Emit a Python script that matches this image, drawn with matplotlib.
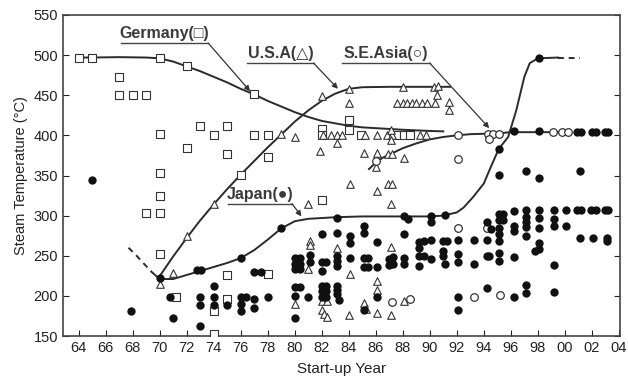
import matplotlib.pyplot as plt
import numpy as np

plt.rcParams['font.family'] = ['Liberation Sans', 'DejaVu Sans']

# Germany (open squares)
germany_year = [64, 65, 70, 72, 67, 67, 68, 69, 77, 70, 73, 74, 75, 72, 75, 77, 78, 78,
                76, 70, 70, 70, 69, 70, 75, 78, 71.2, 75, 74, 74,
                84, 84, 82, 82, 84.9, 87.5, 88.1, 88.5, 82]
germany_temp = [497, 497, 497, 486, 473, 450, 450, 450, 451, 402, 412, 400, 412, 384, 377, 400, 400, 373,
                351, 353, 325, 303, 303, 252, 226, 227, 198, 196, 181, 152,
                419, 407, 408, 400, 400, 400, 400, 400, 320]

# U.S.A (open triangles)
usa_year = [70, 71, 72, 74, 79, 80, 82, 84, 84, 88, 90.3, 90.6, 90.5,
            87.6, 88.0, 88.3, 88.7, 89.0, 89.4, 89.8, 90.4, 91.4, 91.4,
            82.1, 82.7, 83.1, 83.5, 83.1, 81.9, 85.2, 86.1, 86.8, 87.2, 87.1, 87.1, 89.3, 89.7,
            85.1, 86.1, 86.9, 87.2, 88.1, 86, 84.1, 86.9, 87.2, 86.1, 81, 87.1,
            81.1, 81.1, 83.1, 87.1, 81, 84.1, 86.1, 86.1,
            80, 82, 82.4, 82, 82.2, 82.4, 84, 85.1, 85.3, 86.1, 87.1, 88.1]
usa_temp = [215, 228, 274, 315, 402, 398, 449, 458, 440, 460, 460, 461, 450,
            440, 440, 440, 440, 440, 440, 440, 440, 442, 431,
            400, 400, 400, 400, 390, 380, 400, 400, 400, 400, 407, 394, 400, 400,
            378, 378, 377, 377, 372, 360, 340, 340, 340, 331, 314, 315,
            269, 263, 260, 261, 233, 227, 219, 207,
            190, 194, 194, 183, 177, 174, 176, 191, 184, 179, 176, 194]

# S.E.Asia (open circles)
asia_year = [86, 92.1, 94.3, 94.7, 95.1, 94.4, 92.1, 99.1, 99.8, 100.2,
             92.1, 94.2, 93.3, 95.2, 87.2, 88.5]
asia_temp = [368, 400, 402, 402, 402, 396, 371, 404, 404, 404,
             284, 284, 199, 201, 192, 196]

# Japan (filled circles)
japan_year = [65, 67.9, 70, 70.8, 71, 72.8, 73.1, 73, 73, 73, 74, 74, 74, 75,
              76, 76, 76.4, 76, 76, 77, 77.5, 77, 77, 78, 79,
              80, 80.4, 80, 80.4, 80, 80.4, 80, 80.4, 80, 80,
              81.1, 81.1, 81,
              82, 82, 82.3, 82, 82, 82.3, 82, 82.3, 82, 82.3,
              83.1, 83.1, 83.1, 83.1, 83.1, 83.1, 83.1, 83.1, 83.3,
              84.1, 84.1, 84.1,
              85.1, 85.1, 85.1, 85.4, 85.1, 85.4, 85.1,
              86.1, 86.1, 86.1,
              87, 87.3, 87, 87.3,
              88.1, 88.4, 88.1, 88.1, 88.1,
              89.2, 89.6, 89.2, 89.2, 89.6, 89.2,
              90.1, 90.1, 90.1, 90.1,
              91.1, 91, 91.3, 91, 91, 91.1,
              92.1, 92.1, 92.1, 92.1, 92.1,
              93.3, 93.3,
              94.2, 94.5, 94.2, 94.2, 94.4, 94.2,
              95.1, 95.1, 95.1, 95.4, 95.1, 95.4, 95.1, 95.1, 95.1, 95.1, 95.1,
              96.2, 96.2, 96.2, 96.2, 96.2, 96.2,
              97.1, 97.1, 97.1, 97.1, 97.1, 97.1, 97.1, 97.1,
              98.1, 98.1, 98.1, 98.1, 98.1, 98.1, 98.1, 98.1, 97.8,
              99.2, 99.2, 99.2, 99.2, 99.2,
              100.1, 100.1,
              100.9, 101.2, 101.1, 100.9, 101.2, 101.1,
              102.0, 102.3, 101.9, 102.3, 102.1,
              103.0, 103.2, 103.0, 103.2, 103.1, 103.1]
japan_temp = [345, 181, 222, 198, 172, 232, 232, 199, 189, 162, 212, 199, 189, 189,
              247, 199, 199, 190, 181, 230, 230, 196, 185, 199, 285,
              247, 247, 240, 240, 233, 233, 211, 211, 200, 173,
              251, 242, 199,
              277, 242, 242, 231, 212, 212, 206, 206, 199, 199,
              297, 278, 250, 244, 237, 212, 207, 202, 195,
              274, 266, 247,
              287, 278, 247, 247, 236, 236, 183,
              267, 236, 198,
              246, 248, 238, 240,
              299, 296, 277, 247, 240,
              267, 268, 260, 250, 250, 237,
              300, 292, 270, 246,
              301, 269, 269, 256, 250, 240,
              270, 252, 242, 199, 183,
              270, 240,
              292, 283, 270, 250, 250, 210,
              383, 351, 302, 302, 294, 294, 284, 277, 268, 253, 243,
              405, 306, 287, 281, 248, 199,
              355, 307, 298, 292, 286, 274, 214, 204,
              496, 405, 347, 307, 297, 285, 266, 258, 256,
              307, 296, 287, 238, 205,
              307, 287,
              404, 404, 355, 307, 307, 272,
              404, 404, 307, 307, 272,
              404, 404, 307, 307, 272, 268]

# hand-drawn trend lines
germany_line_x = [64, 65, 67, 69, 70, 71, 72, 73, 74, 75, 76, 77, 78, 79, 80, 81, 82, 83, 84, 85, 86, 88, 90, 91]
germany_line_y = [497, 497, 497.5, 497, 496, 492, 486, 480, 473, 466, 458, 451, 443, 436, 429, 423, 418, 415, 412, 410, 409, 407, 405.5, 405]

usa_line_x = [69.9, 71, 72, 73, 74, 75, 76, 77, 78, 79, 80, 81, 82, 83, 84, 85, 87, 89, 91.5]
usa_line_y = [222, 249, 272, 294, 314, 333, 351, 368, 385, 401, 417, 431, 443, 452, 458, 460, 460.5, 460.5, 460.5]

asia_line_x = [85.5, 86, 86.5, 87, 88, 89, 90, 91, 92, 93, 94, 95, 96, 98, 100]
asia_line_y = [358, 366, 372, 376, 384, 390, 395, 398, 400, 401.5, 402, 402.5, 404, 404, 404]

japan_dash_x = [67.7, 68.3, 68.9, 69.4]
japan_dash_y = [260, 250, 239, 230]
japan_line_x = [69.4, 69.8, 70.3, 71, 72, 73, 74, 75, 76, 77, 78, 79, 80, 81, 82, 83, 85, 88, 90, 91,
                92, 92.5, 93.2, 94, 94.4, 95.1, 95.8, 96.4, 97, 97.4, 98, 99.5]
japan_line_y = [230, 224, 221, 221, 226, 231, 236, 241, 247, 257, 270, 284, 293, 296, 297, 298, 299, 299, 299, 300,
                304, 310, 323, 340, 356, 383, 398, 431, 473, 490, 496, 497]
japan_tail_x = [99.5, 101.1]
japan_tail_y = [497, 497]

line_c = '#2a2a2a'
mk_c = '#333333'

fig = plt.figure(figsize=(6.28, 3.77), dpi=100)
ax = fig.add_axes([63/628, 1-336/377, 557/628, 321/377])

ax.plot(germany_line_x, germany_line_y, color=line_c, lw=1.4, zorder=2)
ax.plot(usa_line_x, usa_line_y, color=line_c, lw=1.4, zorder=2)
ax.plot(asia_line_x, asia_line_y, color=line_c, lw=1.4, zorder=2)
ax.plot(japan_line_x, japan_line_y, color=line_c, lw=1.4, zorder=2)
ax.plot(japan_dash_x, japan_dash_y, color=line_c, lw=1.4, ls=(0, (3, 2.5)), zorder=2)
ax.plot(japan_tail_x, japan_tail_y, color=line_c, lw=1.4, ls=(0, (3, 2.5)), zorder=2)

ax.scatter(germany_year, germany_temp, s=26, marker='s', facecolors='white', edgecolors=mk_c, linewidths=0.8, zorder=3)
ax.scatter(usa_year, usa_temp, s=30, marker='^', facecolors='white', edgecolors=mk_c, linewidths=0.8, zorder=3)
ax.scatter(asia_year, asia_temp, s=30, marker='o', facecolors='white', edgecolors=mk_c, linewidths=0.9, zorder=3)
ax.scatter(japan_year, japan_temp, s=36, marker='o', color='#111111', linewidths=0, zorder=4)

# labels with underline and leader arrows
def label(txt, x0, x1, y, tip):
    ax.text((x0 + x1) / 2, y + 2.5, txt, ha='center', va='bottom', fontsize=11.5,
            fontweight='semibold', color='#3a3a3a', zorder=5)
    ax.plot([x0, x1], [y, y], color='#444444', lw=1.0, zorder=5)
    ax.annotate('', xy=tip, xytext=(x1, y),
                arrowprops=dict(arrowstyle='-|>', color='#333333', lw=0.9, mutation_scale=8, shrinkA=0, shrinkB=0),
                zorder=5)

label('Germany(\u25a1)', 67.15, 73.6, 515, (76.7, 455))
label('U.S.A(\u25b3)', 76.5, 81.4, 490, (83.2, 458))
label('S.E.Asia(\u25cb)', 83.5, 90.0, 490, (94.4, 409))
label('Japan(\u25cf)', 75.1, 79.8, 315, (80.5, 299))

ax.set_xlim(62.85, 104.08)
ax.set_ylim(150, 550)
xt = np.arange(64, 105, 2)
ax.set_xticks(xt)
ax.set_xticklabels([f'{t % 100:02d}' for t in xt])
ax.set_yticks(np.arange(150, 551, 50))
ax.tick_params(direction='in', right=True, top=False, length=4, width=0.8, labelsize=10.5, colors='#222222')
for s in ax.spines.values():
    s.set_linewidth(1.2)
    s.set_color('#444444')

ax.set_xlabel('Start-up Year', fontsize=11, color='#222222', labelpad=5)
ax.set_ylabel('Steam Temperature (\u00b0C)', fontsize=10.5, color='#222222', labelpad=4)

fig.savefig('out.png', dpi=100)
